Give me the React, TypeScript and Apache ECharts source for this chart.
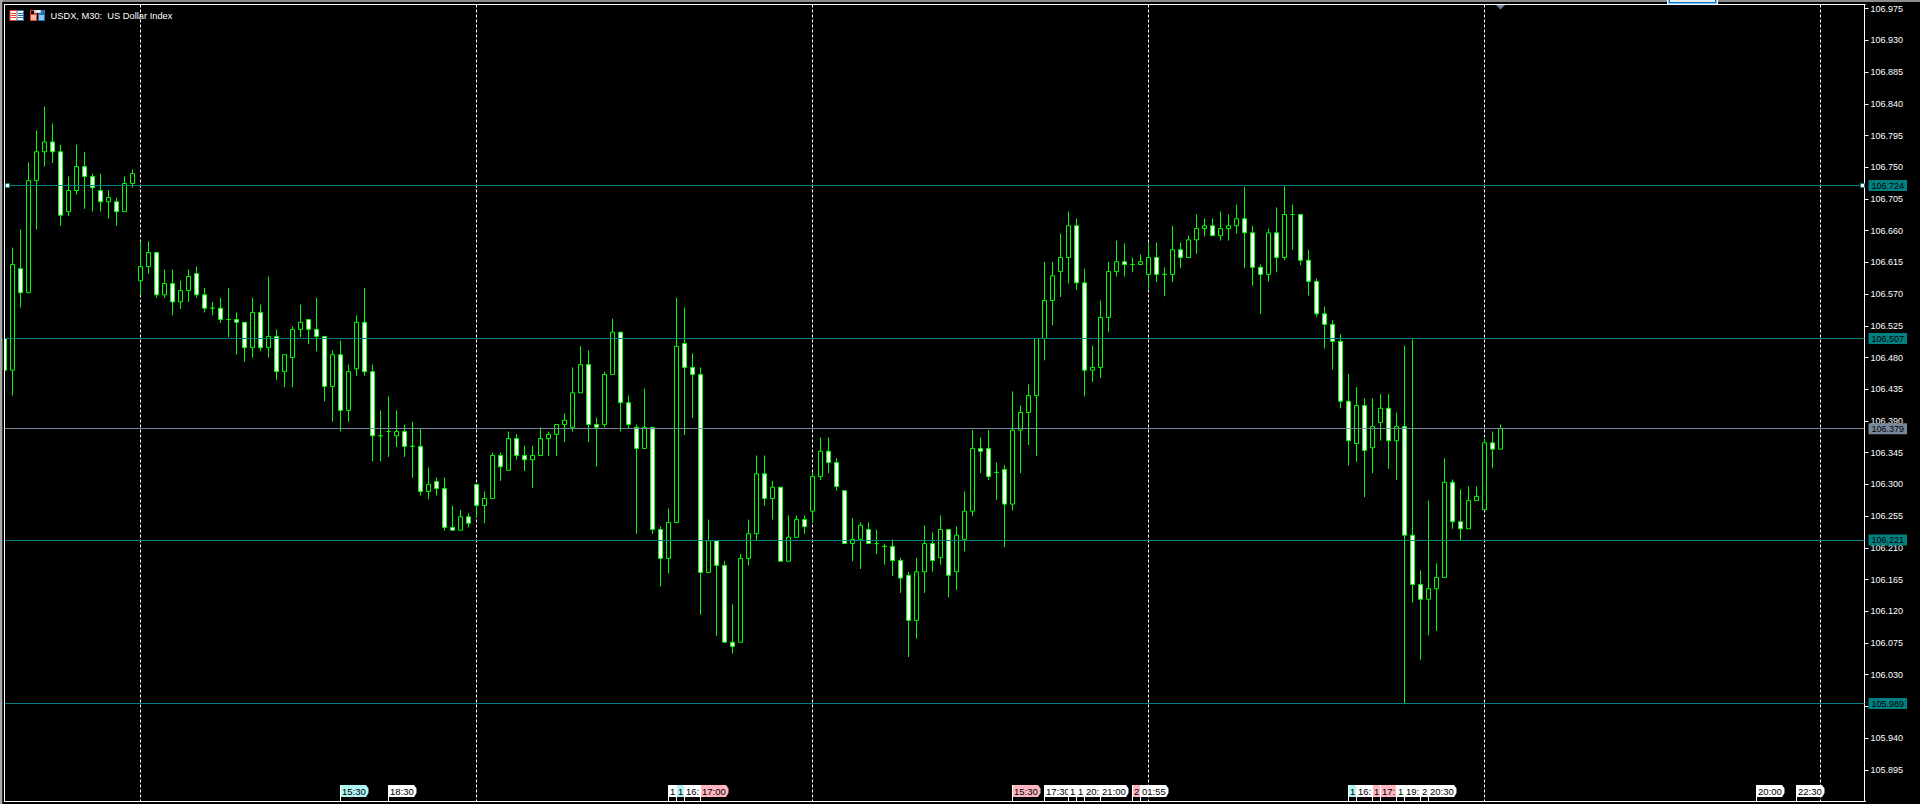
import React, { useEffect, useRef } from "react";
import * as echarts from "echarts";

const titleText = "USDX, M30:  US Dollar Index";

const opens = [
106.507,106.462,106.606,106.572,106.731,106.772,106.786,106.772,106.687,106.717,106.751,106.737,106.717,106.701,106.701,106.687,106.727,
106.589,106.609,106.629,106.569,106.585,106.559,106.575,106.599,106.569,106.550,106.550,106.534,106.534,106.530,106.494,106.544,106.494,106.510,106.460,106.480,106.520,106.534,106.520,106.510,106.439,106.484,106.405,106.464,106.530,106.460,106.369,106.375,106.369,106.375,106.354,106.354,106.290,106.304,106.294,106.239,106.235,106.254,
106.300,106.270,106.280,106.341,106.320,106.365,106.341,106.335,106.341,106.365,106.371,106.385,106.381,106.430,106.470,106.385,106.385,106.456,106.516,106.416,106.381,106.351,106.381,106.236,106.195,106.246,106.500,106.466,106.456,106.175,106.220,106.185,106.076,106.076,106.195,106.230,106.315,106.280,106.296,106.191,106.225,106.250,
106.262,106.311,106.347,106.331,106.291,106.216,106.222,106.236,106.216,106.212,106.212,106.192,106.171,106.107,106.176,106.216,106.196,106.236,106.176,106.222,106.262,106.351,106.351,106.317,106.321,106.272,106.377,106.402,106.426,106.507,106.561,106.602,106.622,106.667,106.586,106.462,106.466,106.537,106.602,106.616,106.612,106.612,
106.598,106.622,106.598,106.598,106.633,106.622,106.647,106.663,106.667,106.653,106.663,106.667,106.677,106.657,106.608,106.598,106.657,106.622,106.683,106.683,106.618,106.588,106.542,106.527,106.503,106.418,106.358,106.412,106.352,106.388,106.408,106.362,106.382,106.228,106.158,106.137,106.152,106.168,106.303,106.247,106.237,106.277,
106.264,106.359,106.350,
];

const closes = [
106.462,106.612,106.572,106.731,106.772,106.786,106.772,106.682,106.717,106.751,106.737,106.721,106.701,106.707,106.687,106.727,106.741,
106.609,106.629,106.569,106.585,106.559,106.575,106.595,106.569,106.550,106.550,106.534,106.534,106.530,106.494,106.544,106.494,106.510,106.460,106.484,106.520,106.530,106.520,106.510,106.439,106.484,106.405,106.460,106.530,106.460,106.369,106.369,106.375,106.375,106.354,106.354,106.290,106.300,106.294,106.239,106.235,106.254,106.245,
106.270,106.280,106.341,106.325,106.365,106.341,106.335,106.341,106.365,106.371,106.385,106.391,106.430,106.470,106.385,106.381,106.456,106.516,106.416,106.385,106.351,106.381,106.236,106.195,106.246,106.496,106.466,106.456,106.175,106.220,106.185,106.076,106.070,106.195,106.230,106.315,106.280,106.296,106.191,106.225,106.250,106.240,
106.311,106.347,106.331,106.297,106.216,106.222,106.242,106.216,106.216,106.212,106.192,106.167,106.107,106.176,106.216,106.192,106.236,106.171,106.228,106.262,106.351,106.347,106.311,106.317,106.272,106.377,106.402,106.426,106.507,106.561,106.596,106.622,106.667,106.586,106.462,106.466,106.537,106.602,106.616,106.612,106.612,106.616,
106.622,106.598,106.598,106.633,106.622,106.647,106.663,106.667,106.653,106.663,106.667,106.677,106.657,106.608,106.598,106.657,106.622,106.683,106.683,106.618,106.588,106.542,106.527,106.503,106.418,106.362,106.412,106.348,106.382,106.408,106.362,106.382,106.228,106.158,106.137,106.152,106.168,106.303,106.247,106.237,106.277,106.283,
106.359,106.350,106.379,
];

const lows = [
106.462,106.426,106.551,106.572,106.662,106.751,106.756,106.667,106.681,106.711,106.691,106.687,106.687,106.677,106.667,106.687,106.721,
106.569,106.599,106.565,106.565,106.540,106.549,106.559,106.565,106.544,106.540,106.529,106.509,106.484,106.474,106.480,106.489,106.480,106.448,106.438,106.438,106.509,106.499,106.489,106.418,106.389,106.375,106.389,106.454,106.454,106.333,106.333,106.339,106.353,106.339,106.309,106.284,106.279,106.284,106.234,106.235,106.235,106.239,
106.254,106.245,106.280,106.305,106.320,106.335,106.319,106.295,106.341,106.340,106.340,106.360,106.375,106.430,106.360,106.325,106.381,106.456,106.375,106.379,106.230,106.351,106.230,106.155,106.174,106.246,106.370,106.394,106.115,106.175,106.085,106.076,106.060,106.076,106.185,106.220,106.270,106.250,106.191,106.191,106.225,106.230,
106.245,106.306,106.316,106.291,106.216,106.191,106.180,106.216,106.201,106.186,106.170,106.146,106.055,106.081,106.146,106.176,106.186,106.140,106.150,106.205,106.255,106.316,106.306,106.278,106.211,106.263,106.316,106.356,106.340,106.476,106.526,106.566,106.585,106.576,106.425,106.445,106.451,106.516,106.595,106.595,106.601,106.612,
106.577,106.587,106.567,106.587,106.607,106.622,106.627,106.652,106.653,106.646,106.646,106.656,106.607,106.582,106.542,106.588,106.601,106.618,106.633,106.611,106.568,106.538,106.493,106.463,106.408,106.327,106.332,106.282,106.316,106.362,106.322,106.306,105.988,106.132,106.051,106.086,106.092,106.168,106.237,106.221,106.237,106.277,
106.263,106.323,106.350,
];

const highs = [
106.507,106.636,106.662,106.757,106.802,106.836,106.812,106.782,106.737,106.782,106.772,106.741,106.741,106.717,106.707,106.737,106.747,
106.645,106.645,106.629,106.605,106.605,106.589,106.605,106.609,106.579,106.559,106.565,106.579,106.544,106.530,106.565,106.555,106.595,106.520,106.484,106.524,106.555,106.534,106.565,106.510,106.490,106.504,106.470,106.540,106.579,106.470,106.405,106.425,106.405,106.385,106.389,106.379,106.324,106.310,106.310,106.270,106.264,106.259,
106.300,106.290,106.345,106.345,106.375,106.371,106.355,106.355,106.381,106.375,106.385,106.401,106.466,106.496,106.490,106.395,106.460,106.535,106.516,106.426,106.385,106.436,106.381,106.240,106.266,106.565,106.551,106.486,106.466,106.250,106.220,106.191,106.130,106.201,106.250,106.341,106.341,106.305,106.296,106.256,106.256,106.256,
106.317,106.367,106.367,106.337,106.291,106.252,106.246,106.246,106.236,106.216,106.222,106.196,106.176,106.196,106.242,106.232,106.256,106.236,106.240,106.290,106.377,106.367,106.377,106.331,106.327,106.432,106.412,106.442,106.507,106.616,106.616,106.656,106.687,106.677,106.606,106.497,106.561,106.616,106.646,106.642,106.622,106.626,
106.643,106.643,106.608,106.667,106.643,106.653,106.683,106.677,106.677,106.687,106.683,106.697,106.722,106.667,106.612,106.663,106.693,106.723,106.697,106.683,106.633,106.592,106.552,106.533,106.513,106.457,106.438,106.422,106.422,106.428,106.428,106.402,106.497,106.506,106.178,106.277,106.188,106.337,106.307,106.293,106.297,106.297,
106.365,106.375,106.385,
];

const axisTicks = [
106.975,106.93,106.885,106.84,106.795,106.75,106.705,106.66,106.615,106.57,106.525,106.48,106.435,106.39,106.345,106.3,106.255,106.21,106.165,106.12,106.075,106.03,105.985,105.94,105.895,
];

const tealLevels = [106.724, 106.507, 106.221, 105.989];
const greyLevels = [106.379];
const selectedLevel = [106.724];
const gridBars = [17, 59, 101, 143, 185, 227];

const tagBars = [42, 48, 83, 84, 85, 87, 126, 130, 133, 134, 135, 137, 141, 142, 168, 169, 171, 172, 174, 175, 177, 178, 219, 224];
const tagTexts = ["15:30", "18:30", "1", "1", "16:", "17:00", "15:30", "17:30", "1", "1", "20:", "21:00", "2", "01:55", "1", "16:", "1", "17:", "1", "19:", "2", "20:30", "20:00", "22:30"];
const tagKinds = ["cyan", "plain", "plain", "cyan", "plain", "pink", "pink", "plain", "plain", "plain", "plain", "plain", "pink", "plain", "cyan", "plain", "pink", "pink", "plain", "plain", "plain", "plain", "plain", "plain"];

const TAG_FILL: Record<string, string> = { cyan: "#b0f4f4", pink: "#ffb6c1", plain: "#ffffff" };
const FONT = '"Liberation Sans", Arial, sans-serif';
const TEAL = "#008080";
const GREY = "#778899";
const SLOTS = 233;
const Y_MIN = 105.85;
const Y_MAX = 106.981;

export default function App() {
  const ref = useRef<HTMLDivElement>(null);
  useEffect(() => {
    document.body.style.margin = "0";
    document.body.style.background = "#000";
    const chart = echarts.init(ref.current!, undefined, { renderer: "svg" });
    const categories = Array.from({ length: SLOTS }, (_, i) => "b" + i);
    const candles = opens.map((o, i) => [o, closes[i], lows[i], highs[i]]);
    const levelItem = (v: number, color: string) => ({
      yAxis: v,
      lineStyle: { color, width: 1, type: "solid" },
      label: {
        show: true,
        position: "end",
        distance: 4,
        formatter: v.toFixed(3),
        color: "#000",
        backgroundColor: color,
        padding: [1, 3, 1, 3],
        fontSize: 9,
        lineHeight: 9,
        fontFamily: FONT,
      },
    });
    const rect = (x: number, y: number, w: number, h: number, fill: string, z = 100) => ({
      type: "rect",
      shape: { x, y, width: w, height: h },
      style: { fill },
      silent: true,
      z,
    });
    chart.setOption({
      animation: false,
      backgroundColor: "#000",
      grid: { left: 0.5, top: 4.5, right: 55.5, bottom: 2.5 },
      xAxis: {
        type: "category",
        data: categories,
        boundaryGap: true,
        axisLine: { show: false },
        axisTick: { show: false },
        axisLabel: { show: false },
        splitLine: { show: false },
      },
      yAxis: {
        type: "value",
        position: "right",
        min: Y_MIN,
        max: Y_MAX,
        scale: true,
        axisLine: { show: true, lineStyle: { color: "#fff", width: 1 } },
        axisTick: { show: true, length: 4, inside: false, customValues: axisTicks, lineStyle: { color: "#fff", width: 1 } },
        axisLabel: {
          show: true,
          margin: 6,
          color: "#fff",
          fontSize: 9,
          fontFamily: FONT,
          customValues: axisTicks,
          formatter: (v: number) => v.toFixed(3),
        },
        splitLine: { show: false },
      },
      series: [
        {
          type: "custom",
          coordinateSystem: "cartesian2d",
          silent: true,
          z: 1,
          clip: false,
          data: gridBars.map((b) => [b, Y_MIN]),
          encode: { x: 0, y: 1 },
          renderItem: (_: any, api: any) => {
            const bottom = api.coord([api.value(0), Y_MIN]);
            const top = api.coord([api.value(0), Y_MAX]);
            return {
              type: "line",
              shape: { x1: bottom[0], y1: top[1], x2: bottom[0], y2: bottom[1] },
              style: { stroke: "#fff", lineWidth: 1, lineDash: [3, 2] },
            };
          },
        },
        {
          type: "candlestick",
          z: 2,
          data: candles,
          barWidth: 4,
          itemStyle: {
            color: "#000000",
            color0: "#ffffff",
            borderColor: "#00ff00",
            borderColor0: "#00ff00",
            borderColorDoji: "#00ff00",
            borderWidth: 1,
          },
          markLine: {
            silent: true,
            symbol: "none",
            animation: false,
            precision: 3,
            data: [
              ...tealLevels.map((v) => levelItem(v, TEAL)),
              ...greyLevels.map((v) => levelItem(v, GREY)),
            ],
          },
        },
        {
          type: "custom",
          coordinateSystem: "cartesian2d",
          silent: true,
          z: 10,
          clip: false,
          data: tagBars.map((b, i) => [b, Y_MIN, i]),
          encode: { x: 0, y: 1 },
          renderItem: (_: any, api: any) => {
            const p = api.coord([api.value(0), api.value(1)]);
            const k = api.value(2) as number;
            const x = Math.round(p[0] - 0.5);
            const top = 785;
            return {
              type: "group",
              children: [
                {
                  type: "polygon",
                  shape: { points: [[x, top], [x + 26, top], [x + 28.5, top + 3.5], [x + 28.5, top + 8], [x + 26, top + 12], [x, top + 12]] },
                  style: { fill: TAG_FILL[tagKinds[k]] },
                },
                { type: "rect", shape: { x, y: top, width: 1, height: p[1] - top }, style: { fill: "#fff" } },
                {
                  type: "text",
                  x: x + 2,
                  y: top + 6,
                  style: { text: tagTexts[k], fill: "#000", font: `9.5px ${FONT}`, verticalAlign: "middle", align: "left" },
                },
              ],
            };
          },
        },
        {
          type: "custom",
          coordinateSystem: "cartesian2d",
          silent: true,
          z: 11,
          clip: false,
          data: selectedLevel.map((v) => [0, v]),
          encode: { x: 0, y: 1 },
          renderItem: (_: any, api: any) => {
            const y = Math.round(api.coord([0, api.value(1)])[1] - 0.5) + 0.5;
            const xs = [api.coord([0, api.value(1)])[0] + 3, api.coord([SLOTS - 1, api.value(1)])[0] + 2];
            return {
              type: "group",
              children: xs.map((cx: number) => ({
                type: "rect",
                shape: { x: cx - 2, y: y - 2, width: 4, height: 4 },
                style: { fill: "#fff", stroke: TEAL, lineWidth: 1 },
              })),
            };
          },
        },
      ],
      graphic: {
        elements: [
          rect(0, 0, 1920, 2, "#8c8c8c"),
          rect(0, 2, 1920, 2, "#000000"),
          rect(0, 0, 2.5, 804, "#a8a8a8"),
          rect(2.5, 2, 1.5, 802, "#000000"),
          rect(4, 4, 1861.5, 1, "#ffffff"),
          rect(4, 4, 1, 798, "#ffffff"),
          rect(4, 801, 1862, 1, "#ffffff"),
          rect(4, 802, 1916, 2, "#000000"),
          rect(1667, 0, 51, 4, "#ffffff"),
          rect(1668.5, 0, 48, 3.5, "#0078d7"),
          rect(1670, 0, 45, 2, "#f0f0f0"),
          {
            type: "polygon",
            shape: { points: [[1496, 5], [1505, 5], [1500.5, 9.5]] },
            style: { fill: "#708090" },
            silent: true,
            z: 100,
          },
          // window icons
          rect(9.5, 10, 7.5, 11, "#e8402a"),
          rect(17, 10, 7, 11, "#1f74b8"),
          rect(10.5, 11, 6, 9, "#ffffff"),
          rect(17.5, 11, 5.5, 9, "#ffffff"),
          rect(11, 13, 5, 1, "#e8402a"),
          rect(11, 15, 5, 1, "#e8402a"),
          rect(11, 17, 5, 1, "#e8402a"),
          rect(18, 13, 5, 1, "#1f74b8"),
          rect(18, 15, 5, 1, "#1f74b8"),
          rect(18, 17, 5, 1, "#1f74b8"),
          rect(30, 10, 7, 11, "#e8402a"),
          rect(38, 10, 7, 11, "#1f74b8"),
          rect(31, 11, 3, 3, "#000000"),
          rect(31, 15, 5, 5, "#ffb9a8"),
          rect(39, 15, 5, 5, "#8cc4ee"),
          rect(34, 10, 7, 3, "#c8c8c8"),
          rect(36, 10.5, 4, 1.5, "#ffffff"),
          {
            type: "text",
            x: 50.5,
            y: 15.5,
            silent: true,
            z: 100,
            style: { text: titleText, fill: "#fff", font: `9.3px ${FONT}`, verticalAlign: "middle", align: "left" },
          },
        ],
      },
    });
    return () => chart.dispose();
  }, []);
  return <div ref={ref} style={{ position: "absolute", left: 0, top: 0, width: 1920, height: 804 }} />;
}
